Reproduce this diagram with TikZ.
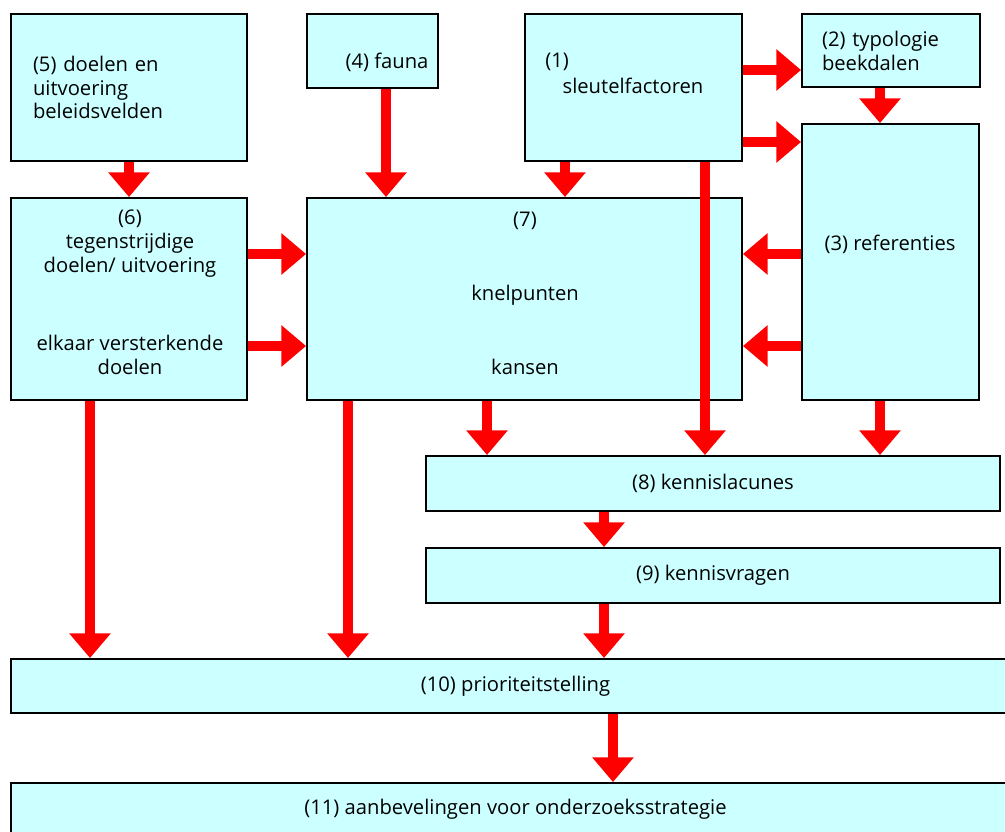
\documentclass[tikz,border=0pt]{standalone}
\usepackage{fontspec}
\setmainfont{Open Sans}
\usetikzlibrary{arrows.meta}
\definecolor{lichtblauw}{HTML}{CCFFFF}
\tikzset{
  blok/.style={draw=black, line width=1.1pt, fill=lichtblauw, inner sep=0pt,
    font=\fontsize{11.5}{13.6}\selectfont},
  tekst/.style={inner sep=0pt, align=center, font=\fontsize{11.5}{13.6}\selectfont},
  pijl/.style={draw=red, line width=5.7pt, -{Triangle[width=22.7pt,length=14pt,fill=red]}}
}
\begin{document}
\begin{tikzpicture}[x=0.02cm, y=-0.02cm]
    \useasboundingbox (0,0) rectangle (1005,832);
    \clip (0,0) rectangle (1005,832);

    % Blokken bovenaan
    \node[blok, minimum width=4.72cm, minimum height=2.94cm, text width=3.84cm, align=left] (b5) at (129,87.5)
        {(5) doelen en\\uitvoering\\beleidsvelden};
    \node[blok, minimum width=2.62cm, minimum height=1.48cm] (b4) at (372.5,51) {};
    \node[blok, minimum width=4.34cm, minimum height=2.94cm] (b1) at (633.5,87.5) {};
    \node[blok, minimum width=3.56cm, minimum height=1.46cm, text width=2.76cm, align=left] (b2) at (891,50.5)
        {(2) typologie\\beekdalen};
    \node[blok, minimum width=3.54cm, minimum height=5.52cm] (b3) at (890.5,262) {};

    % Middelste rij
    \node[blok, minimum width=4.72cm, minimum height=4.04cm] (b6) at (129,299) {};
    \node[blok, minimum width=8.70cm, minimum height=4.04cm] (b7) at (524.5,299) {};

    % Onderste blokken
    \node[blok, minimum width=11.48cm, minimum height=1.10cm] (b8) at (713,483.5) {(8) kennislacunes};
    \node[blok, minimum width=11.48cm, minimum height=1.10cm] (b9) at (713,575.5) {(9) kennisvragen};
    \node[blok, minimum width=20.18cm, minimum height=1.08cm] (b10) at (515.5,686) {(10) prioriteitstelling};
    \node[blok, minimum width=20.18cm, minimum height=1.06cm] (b11) at (515.5,809.5) {(11) aanbevelingen voor onderzoeksstrategie};

    % Teksten in de blokken
    \node[tekst] (t4) at (387,62) {(4) fauna};
    \node[tekst, anchor=west] (t1a) at (545,62) {(1)};
    \node[tekst] (t1b) at (633,86) {sleutelfactoren};
    \node[tekst] (t3) at (890,244) {(3) referenties};
    \node[tekst] (t6a) at (130,244) {(6)\\tegenstrijdige\\doelen/ uitvoering};
    \node[tekst] (t6b) at (130,355) {elkaar versterkende\\doelen};
    \node[tekst] (t7a) at (525,221) {(7)};
    \node[tekst] (t7b) at (525,295) {knelpunten};
    \node[tekst] (t7c) at (525,367) {kansen};

    % Pijlen
    \draw[pijl] (b5.south) -- (b6.north);
    \draw[pijl] (b4.south -| 386,0) -- (b7.north -| 386,0);
    \draw[pijl] (b1.south -| 565,0) -- (b7.north -| 565,0);
    \draw[pijl] (b1.east |- 0,70) -- (b2.west |- 0,70);
    \draw[pijl] (b1.east |- 0,142) -- (b3.west |- 0,142);
    \draw[pijl] (b2.south -| 880,0) -- (b3.north -| 880,0);
    \draw[pijl] (b3.west |- 0,254) -- (b7.east |- 0,254);
    \draw[pijl] (b3.west |- 0,346) -- (b7.east |- 0,346);
    \draw[pijl] (b6.east |- 0,254) -- (b7.west |- 0,254);
    \draw[pijl] (b6.east |- 0,346) -- (b7.west |- 0,346);
    \draw[pijl] (b7.south -| 487,0) -- (b8.north -| 487,0);
    \draw[pijl] (b1.south -| 705,0) -- (b8.north -| 705,0);
    \draw[pijl] (b3.south -| 880,0) -- (b8.north -| 880,0);
    \draw[pijl] (b8.south -| 604,0) -- (b9.north -| 604,0);
    \draw[pijl] (b9.south -| 604,0) -- (b10.north -| 604,0);
    \draw[pijl] (b6.south -| 90,0) -- (b10.north -| 90,0);
    \draw[pijl] (b7.south -| 348,0) -- (b10.north -| 348,0);
    \draw[pijl] (b10.south -| 613,0) -- (b11.north -| 613,0);
\end{tikzpicture}
\end{document}
